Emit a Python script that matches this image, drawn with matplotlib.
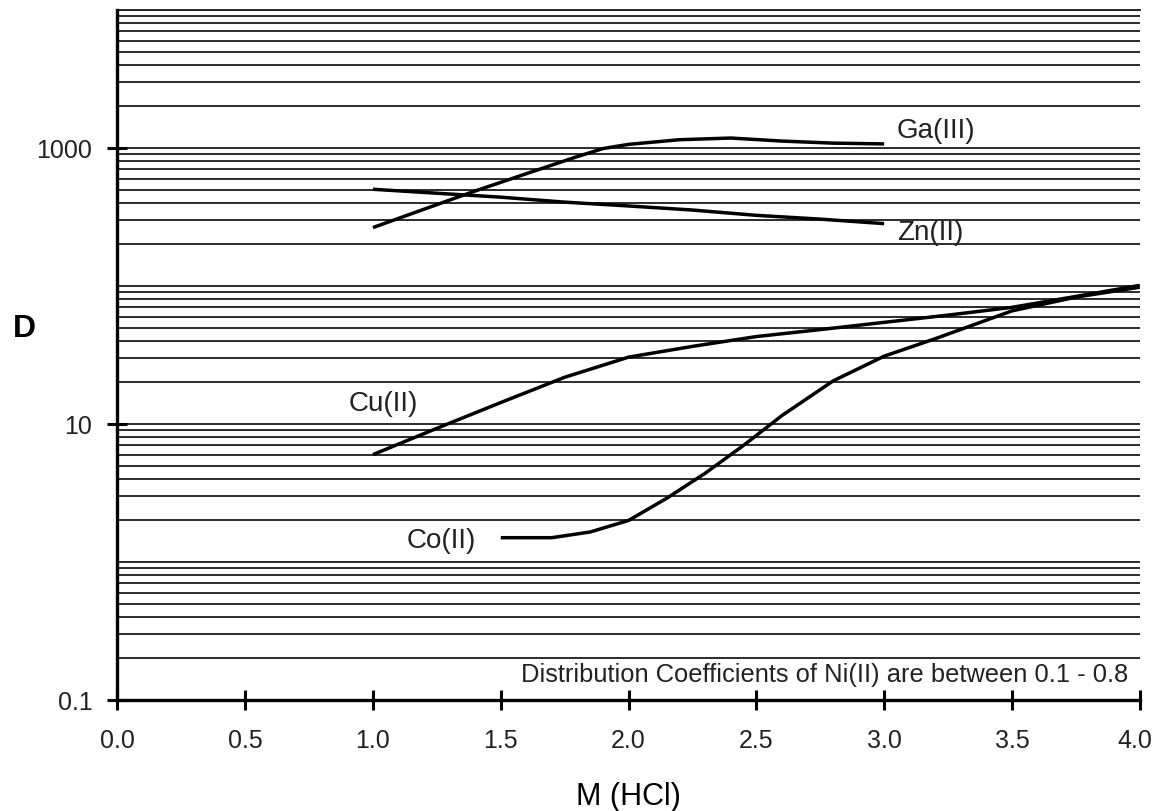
#!/usr/bin/env python3
# -*- coding: utf-8 -*-

import numpy as np
import matplotlib
matplotlib.use("Agg")
import matplotlib.pyplot as plt
from matplotlib.ticker import FixedLocator, LogLocator, NullFormatter
from matplotlib.transforms import ScaledTranslation

plt.rcParams['font.family'] = ['Liberation Sans', 'DejaVu Sans']

# 讀圖估計的數據 (M HCl vs D)
ga_x = [1.0, 1.2, 1.4, 1.6, 1.8, 1.9, 2.0, 2.2, 2.4, 2.6, 2.8, 3.0]
ga_d = [265, 360, 488, 651, 867, 990, 1062, 1148, 1180, 1122, 1084, 1070]

zn_x = [1.0, 1.25, 1.5, 1.75, 2.0, 2.25, 2.5, 2.75, 3.0]
zn_d = [502, 470, 440, 405, 380, 355, 325, 305, 283]

cu_x = [1.0, 1.25, 1.5, 1.75, 2.0, 2.25, 2.5, 2.75, 3.0, 3.25, 3.5, 3.75, 4.0]
cu_d = [6.0, 9.3, 14.3, 21.8, 30.5, 36.5, 43, 48.3, 54.5, 61.5, 70, 84, 101]

co_x = [1.5, 1.6, 1.7, 1.85, 2.0, 2.15, 2.3, 2.45, 2.6, 2.8, 3.0, 3.2, 3.5, 3.75, 4.0]
co_d = [1.5, 1.5, 1.5, 1.65, 2.0, 2.9, 4.4, 7.0, 11.5, 20.5, 31, 41.5, 66, 83, 98]

x_ticks = [0.0, 0.5, 1.0, 1.5, 2.0, 2.5, 3.0, 3.5, 4.0]
x_tick_labels = ['0.0', '0.5', '1.0', '1.5', '2.0', '2.5', '3.0', '3.5', '4.0']
y_ticks = [0.1, 10, 1000]
y_tick_labels = ['0.1', '10', '1000']

fig = plt.figure(figsize=(11.55, 8.12), dpi=100)
ax = fig.add_axes([0.1016, 0.1367, 0.8852, 0.8498])

ax.set_yscale('log')
ax.set_xlim(0, 4.0)
ax.set_ylim(0.1, 10000)

# 格線: 每個十進位都畫 1..9 的線
ax.yaxis.set_major_locator(FixedLocator(y_ticks))
ax.yaxis.set_minor_locator(LogLocator(base=10, subs=np.arange(1, 10), numticks=100))
ax.yaxis.set_minor_formatter(NullFormatter())
ax.set_yticklabels(y_tick_labels)
ax.set_xticks(x_ticks)
ax.set_xticklabels(x_tick_labels)

ax.grid(True, which='both', axis='y', color='#1a1a1a', linewidth=1.3)
ax.grid(False, axis='x')
ax.set_axisbelow(True)

ax.tick_params(axis='both', which='major', direction='inout', length=14,
               width=2.2, labelsize=18, color='black', labelcolor='#222222')
ax.tick_params(axis='x', pad=13)
ax.tick_params(axis='y', pad=11)
ax.tick_params(axis='y', which='minor', length=0)

# 最右邊的 4.0 稍微往左移, 免得被切掉
for lbl in ax.get_xticklabels():
    if lbl.get_text() == '4.0':
        lbl.set_transform(lbl.get_transform() + ScaledTranslation(-5 / 100, 0, fig.dpi_scale_trans))

for side in ['left', 'bottom']:
    ax.spines[side].set_linewidth(2.4)
ax.spines['right'].set_visible(False)
ax.spines['top'].set_linewidth(1.3)
ax.spines['top'].set_color('#1a1a1a')

line_kw = dict(color='black', linewidth=2.5, solid_capstyle='butt')
ax.plot(ga_x, ga_d, **line_kw)
ax.plot(zn_x, zn_d, **line_kw)
ax.plot(cu_x, cu_d, **line_kw)
ax.plot(co_x, co_d, **line_kw)

label_kw = dict(fontsize=20, color='#222222', va='center', ha='left')
ax.text(3.05, 1356, 'Ga(III)', **label_kw)
ax.text(3.05, 248, 'Zn(II)', **label_kw)
ax.text(0.904, 14.1, 'Cu(II)', **label_kw)
ax.text(1.133, 1.45, 'Co(II)', **label_kw)

ax.text(0.989, 0.0377, 'Distribution Coefficients of Ni(II) are between 0.1 - 0.8',
        transform=ax.transAxes, ha='right', va='center', fontsize=18.4, color='#222222')

ax.set_ylabel('D', rotation=0, fontsize=23, fontweight='bold', va='center', ha='center')
ax.yaxis.set_label_coords(-0.0913, 0.539)
ax.set_xlabel('M (HCl)', fontsize=22, va='center', ha='center')
ax.xaxis.set_label_coords(0.5, -0.139)

plt.savefig('out.png', dpi=100)
plt.close()
